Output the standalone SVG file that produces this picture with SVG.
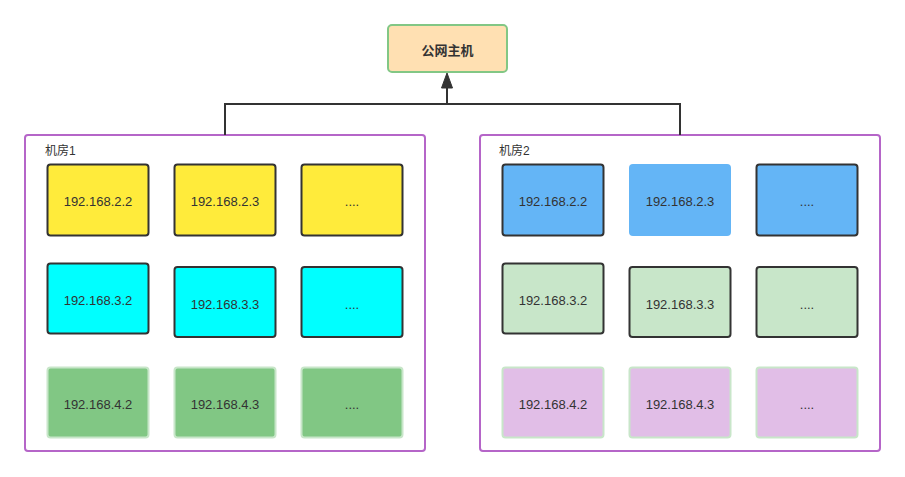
<svg xmlns="http://www.w3.org/2000/svg" width="905" height="477" viewBox="0 0 905 477">
<defs>
<style>
text{font-family:"Liberation Sans","Noto Sans CJK SC",sans-serif;font-size:13px;fill:#333;text-anchor:middle;dominant-baseline:central}
.lbl{text-anchor:start;dominant-baseline:auto;font-size:12px}
.room{fill:#fff;stroke:#b565c8;stroke-width:2}
.n{stroke-width:2}
.dark{stroke:#333}
.lg{stroke:#c8e6c9}
.conn{fill:none;stroke:#333;stroke-width:2}
</style>
</defs>
<rect width="905" height="477" fill="#fff"/>
<g id="room1">
<rect class="room" x="25" y="135" width="400" height="316" rx="3"/>
<text class="lbl" x="45" y="155">机房1</text>
</g>
<g id="room2">
<rect class="room" x="480" y="135" width="400" height="316" rx="3"/>
<text class="lbl" x="499" y="155">机房2</text>
</g>
<g id="connectors">
<path class="conn" d="M225,135 V104 H680 V135"/>
<path class="conn" d="M447,104 V88"/>
<path d="M447,73 L441.5,88 L452.5,88 z" fill="#333" stroke="#333" stroke-width="1"/>
</g>
<g id="public">
<rect x="388" y="25" width="119" height="47" rx="4" fill="#ffe0b2" stroke="#82c785" stroke-width="2"/>
<text x="447.5" y="50" style="font-weight:bold">公网主机</text>
</g>
<g id="r1-2-2"><rect class="n dark" x="47.5" y="164.5" width="101" height="71" rx="3" fill="#ffeb3b"/><text x="98" y="201">192.168.2.2</text></g>
<g id="r1-2-3"><rect class="n dark" x="174.5" y="164.5" width="101" height="71" rx="3" fill="#ffeb3b"/><text x="225" y="201">192.168.2.3</text></g>
<g id="r1-2-x"><rect class="n dark" x="301.5" y="164.5" width="101" height="71" rx="3" fill="#ffeb3b"/><text x="352" y="201">....</text></g>
<g id="r1-3-2"><rect class="n dark" x="47.5" y="263.5" width="101" height="70" rx="3" fill="#00ffff"/><text x="98" y="300">192.168.3.2</text></g>
<g id="r1-3-3"><rect class="n dark" x="174.5" y="267" width="101" height="70" rx="3" fill="#00ffff"/><text x="225" y="304">192.168.3.3</text></g>
<g id="r1-3-x"><rect class="n dark" x="301.5" y="267" width="101" height="70" rx="3" fill="#00ffff"/><text x="352" y="304">....</text></g>
<g id="r1-4-2"><rect class="n lg" x="47.5" y="367.5" width="101" height="70" rx="3" fill="#81c784"/><text x="98" y="404">192.168.4.2</text></g>
<g id="r1-4-3"><rect class="n lg" x="174.5" y="367.5" width="101" height="70" rx="3" fill="#81c784"/><text x="225" y="404">192.168.4.3</text></g>
<g id="r1-4-x"><rect class="n lg" x="301.5" y="367.5" width="101" height="70" rx="3" fill="#81c784"/><text x="352" y="404">....</text></g>
<g id="r2-2-2"><rect class="n dark" x="502.5" y="164.5" width="101" height="71" rx="3" fill="#64b5f6"/><text x="553" y="201">192.168.2.2</text></g>
<g id="r2-2-3"><rect x="629" y="164" width="102" height="72" rx="4" fill="#64b5f6"/><text x="680" y="201">192.168.2.3</text></g>
<g id="r2-2-x"><rect class="n dark" x="756.5" y="164.5" width="101" height="71" rx="3" fill="#64b5f6"/><text x="807" y="201">....</text></g>
<g id="r2-3-2"><rect class="n dark" x="502.5" y="263.5" width="101" height="70" rx="3" fill="#c8e6c9"/><text x="553" y="300">192.168.3.2</text></g>
<g id="r2-3-3"><rect class="n dark" x="629.5" y="267" width="101" height="70" rx="3" fill="#c8e6c9"/><text x="680" y="304">192.168.3.3</text></g>
<g id="r2-3-x"><rect class="n dark" x="756.5" y="267" width="101" height="70" rx="3" fill="#c8e6c9"/><text x="807" y="304">....</text></g>
<g id="r2-4-2"><rect class="n lg" x="502.5" y="367.5" width="101" height="70" rx="3" fill="#e1bee7"/><text x="553" y="404">192.168.4.2</text></g>
<g id="r2-4-3"><rect class="n lg" x="629.5" y="367.5" width="101" height="70" rx="3" fill="#e1bee7"/><text x="680" y="404">192.168.4.3</text></g>
<g id="r2-4-x"><rect class="n lg" x="756.5" y="367.5" width="101" height="70" rx="3" fill="#e1bee7"/><text x="807" y="404">....</text></g>
</svg>
